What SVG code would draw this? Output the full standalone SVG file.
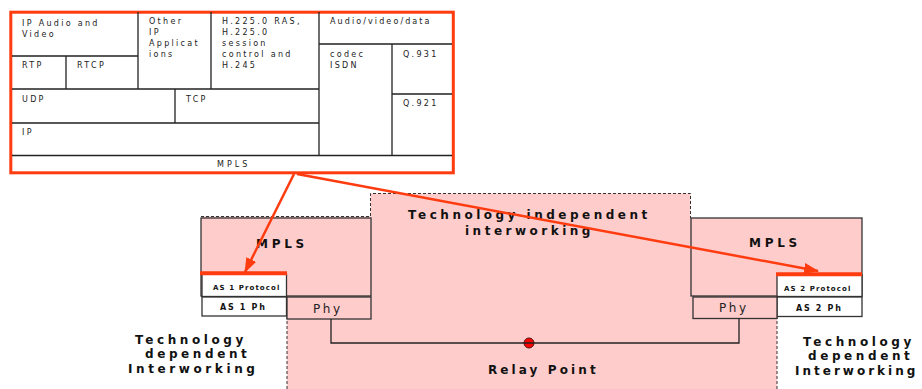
<svg xmlns="http://www.w3.org/2000/svg" width="922" height="389" viewBox="0 0 922 389">
<style>
.g{fill:none;stroke:#222;stroke-width:1.3}
.t{font-family:"DejaVu Sans",Verdana,sans-serif;font-size:8px;letter-spacing:2.3px;fill:#222}
.b{font-family:"DejaVu Sans",Verdana,sans-serif;font-weight:bold;font-size:12px;letter-spacing:3.6px;fill:#111}
.box{stroke:#333;stroke-width:1.3}
.pk{fill:#ffcccc}
.wh{fill:#fff}
.red{stroke:#ff3b10;fill:none}
.dash{fill:none;stroke:#333;stroke-width:1;stroke-dasharray:3 2}
</style>
<defs>
<marker id="ah" markerUnits="userSpaceOnUse" markerWidth="15" markerHeight="11" refX="14" refY="5.5" orient="auto">
<path d="M0,0 L15,5.5 L0,11 z" fill="#ff3b10"/>
</marker>
</defs>

<g id="protocol-stack">
<rect x="10.8" y="12.2" width="442.5" height="160.6" fill="#fff" class="red" stroke-width="3"/>
<path class="g" d="M12,56H138 M66,56V89 M138,12V89 M211,12V89 M12,89H319 M175,89V123 M12,123H319 M12,155.5H452 M319,12V155.5 M319,44H452 M392,44V155.5 M392,94H452"/>
<text class="t" x="22" y="26">IP Audio and</text>
<text class="t" x="22" y="37">Video</text>
<text class="t" x="22" y="68">RTP</text>
<text class="t" x="77" y="68">RTCP</text>
<text class="t" x="149" y="24">Other</text>
<text class="t" x="149" y="35">IP</text>
<text class="t" x="149" y="46">Applicat</text>
<text class="t" x="149" y="57">ions</text>
<text class="t" x="222" y="24">H.225.0 RAS,</text>
<text class="t" x="222" y="35">H.225.0</text>
<text class="t" x="222" y="46">session</text>
<text class="t" x="222" y="57">control and</text>
<text class="t" x="222" y="68">H.245</text>
<text class="t" x="330" y="24" style="letter-spacing:2.1px">Audio/video/data</text>
<text class="t" x="330" y="57">codec</text>
<text class="t" x="330" y="68">ISDN</text>
<text class="t" x="403" y="57">Q.931</text>
<text class="t" x="403" y="106">Q.921</text>
<text class="t" x="22" y="102">UDP</text>
<text class="t" x="186" y="102">TCP</text>
<text class="t" x="22" y="135">IP</text>
<text class="t" x="217" y="167" style="letter-spacing:3px">MPLS</text>
</g>

<g id="interworking-area">
<polygon class="pk" points="201,216.5 370.5,216.5 370.5,193.5 690.5,193.5 690.5,218 862,218 862,296 777,296 777,389 287,389 287,296 201,296"/>
<path class="dash" d="M201,216.5H370.5V193.5H690.5V218 M287,316V389 M777,316V389"/>
<text class="b" x="408" y="219" style="letter-spacing:3.5px">Technology independent</text>
<text class="b" x="465" y="235" style="letter-spacing:3.5px">interworking</text>
<text class="b" x="488" y="374" style="letter-spacing:3.1px">Relay Point</text>
</g>

<g id="left-mpls">
<rect class="box pk" x="201" y="218" width="170" height="78"/>
<text class="b" x="256" y="248" style="letter-spacing:3.7px">MPLS</text>
</g>
<g id="as1-protocol">
<rect class="box wh" x="202" y="274" width="84.5" height="22.5"/>
<line class="red" x1="200" y1="273.3" x2="287" y2="273.3" stroke-width="4"/>
<text class="b" x="213" y="290" style="font-size:7px;letter-spacing:1.1px">AS 1 Protocol</text>
</g>
<g id="as1-ph">
<rect class="box wh" x="202" y="297" width="84.5" height="19"/>
<text class="b" x="220" y="310" style="font-size:8px;letter-spacing:1.7px">AS 1 Ph</text>
</g>
<g id="left-phy">
<rect class="box pk" x="287" y="297" width="84" height="22"/>
<text class="t" x="313" y="313" style="font-size:12px;letter-spacing:2.6px">Phy</text>
</g>

<g id="right-mpls">
<rect class="box pk" x="691" y="218" width="171" height="78"/>
<text class="b" x="749" y="247" style="letter-spacing:3.7px">MPLS</text>
</g>
<g id="as2-protocol">
<rect class="box wh" x="777" y="275" width="85" height="21.5"/>
<line class="red" x1="776" y1="274.3" x2="862" y2="274.3" stroke-width="4"/>
<text class="b" x="784" y="291" style="font-size:7px;letter-spacing:1.1px">AS 2 Protocol</text>
</g>
<g id="as2-ph">
<rect class="box wh" x="777" y="297" width="85" height="19.5"/>
<text class="b" x="796" y="310.5" style="font-size:8px;letter-spacing:1.7px">AS 2 Ph</text>
</g>
<g id="right-phy">
<rect class="box pk" x="693" y="297" width="84" height="21.5"/>
<text class="t" x="719" y="312" style="font-size:12px;letter-spacing:2.6px">Phy</text>
</g>

<g id="relay-point">
<circle cx="529" cy="343" r="5" fill="#ff0000" stroke="#551111" stroke-width="1"/>
</g>

<g id="left-label">
<text class="b" x="135" y="344">Technology</text>
<text class="b" x="145" y="358">dependent</text>
<text class="b" x="128" y="373">Interworking</text>
</g>
<g id="right-label">
<text class="b" x="803" y="346">Technology</text>
<text class="b" x="808" y="360">dependent</text>
<text class="b" x="795" y="375" style="letter-spacing:3px">Interworking</text>
</g>

<g id="connectors">
<path class="g" d="M331,319V343H739V318.5"/>
<line class="red" x1="294" y1="174" x2="245" y2="272" stroke-width="2.5" marker-end="url(#ah)"/>
<line class="red" x1="297" y1="174" x2="818" y2="271" stroke-width="2.5" marker-end="url(#ah)"/>
</g>
</svg>
